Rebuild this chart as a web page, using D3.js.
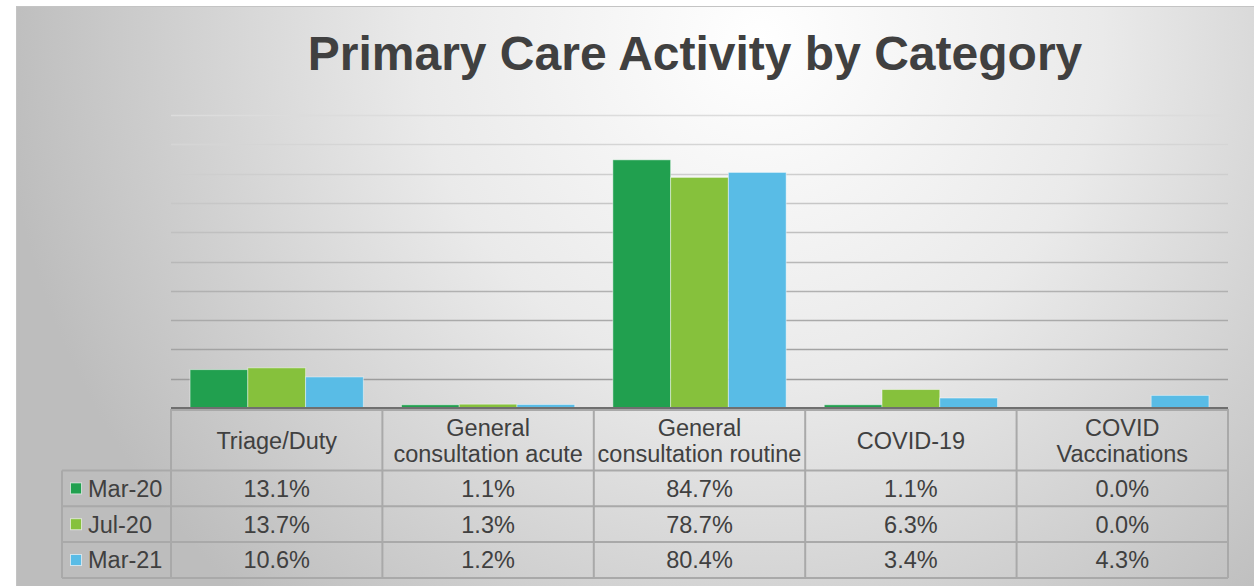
<!DOCTYPE html>
<html><head><meta charset="utf-8">
<script src="https://cdn.jsdelivr.net/npm/d3@7"></script>
<style>html,body{margin:0;padding:0;background:#fff;}svg{display:block;}</style>
</head><body>
<svg id="c" width="1254" height="586"></svg>
<script>
const categories = ["Triage/Duty", "General consultation acute", "General consultation routine", "COVID-19", "COVID Vaccinations"];
const categoryLines = [["Triage/Duty"], ["General", "consultation acute"], ["General", "consultation routine"], ["COVID-19"], ["COVID", "Vaccinations"]];
const seriesNames = ["Mar-20", "Jul-20", "Mar-21"];
const mar20 = [13.1, 1.1, 84.7, 1.1, 0.0];
const jul20 = [13.7, 1.3, 78.7, 6.3, 0.0];
const mar21 = [10.6, 1.2, 80.4, 3.4, 4.3];
const seriesColors = ["#21a04f", "#86c13c", "#59bce6"];
const yTicks = [0, 10, 20, 30, 40, 50, 60, 70, 80, 90, 100];
const title = "Primary Care Activity by Category";

(function () {
const series = [mar20, jul20, mar21];
const svg = d3.select("#c");
const font = "'Liberation Sans', Arimo, Arial, sans-serif";
const defs = svg.append("defs");
const rg = defs.append("radialGradient").attr("id", "bg")
  .attr("gradientUnits", "userSpaceOnUse")
  .attr("cx", 760).attr("cy", 40).attr("r", 760).attr("fx", 760).attr("fy", 40);
rg.append("stop").attr("offset", "0%").attr("stop-color", "#ffffff");
rg.append("stop").attr("offset", "45%").attr("stop-color", "#eaeaea");
rg.append("stop").attr("offset", "100%").attr("stop-color", "#bdbdbd");

svg.append("rect").attr("x", 16).attr("y", 6).attr("width", 1238).attr("height", 580).attr("fill", "url(#bg)");
svg.append("line").attr("x1", 16).attr("x2", 1254).attr("y1", 6.5).attr("y2", 6.5).attr("stroke", "#c4c4c4");
svg.append("line").attr("x1", 16.5).attr("x2", 16.5).attr("y1", 6).attr("y2", 586).attr("stroke", "#c4c4c4");

svg.append("text").attr("x", 695).attr("y", 70).attr("text-anchor", "middle")
  .style("font-family", font).attr("font-weight", "bold")
  .attr("font-size", 48).attr("fill", "#404040").text(title);

const pLeft = 171, pRight = 1228, pTop = 115, base = 408;
const x = d3.scaleBand().domain(categories).range([pLeft, pRight]).paddingInner(0).paddingOuter(0);
const y = d3.scaleLinear().domain([0, 100]).range([base, pTop]);
const xs = d3.scaleBand().domain(seriesNames).range([0, x.bandwidth()]).paddingOuter(0.33).paddingInner(0);

const gridCol = d3.scaleLinear().domain([100, 10]).range(["#dcdcdc", "#9c9c9c"]);
svg.append("g").selectAll("line").data(yTicks.filter(t => t > 0)).join("line")
  .attr("x1", pLeft).attr("x2", pRight)
  .attr("y1", d => Math.round(y(d)) + 0.5).attr("y2", d => Math.round(y(d)) + 0.5)
  .attr("stroke", d => gridCol(d)).attr("stroke-width", 1.5);

const bars = svg.append("g");
series.forEach((vals, si) => {
  bars.selectAll(null).data(vals).join("rect")
    .attr("x", (d, i) => x(categories[i]) + xs(seriesNames[si]))
    .attr("width", xs.bandwidth())
    .attr("y", d => y(d))
    .attr("height", d => base - y(d))
    .attr("fill", seriesColors[si])
    .attr("stroke", "rgba(255,255,255,0.45)").attr("stroke-width", 1);
});
svg.append("line").attr("x1", pLeft).attr("x2", pRight).attr("y1", base).attr("y2", base)
  .attr("stroke", "#6f6f6f").attr("stroke-width", 2);

const tbl = svg.append("g");
const headerBottom = 470.5, rowH = 35.8, legendLeft = 62;
const rowTops = seriesNames.map((s, i) => headerBottom + i * rowH);
const tableBottom = headerBottom + 3 * rowH;
const lineCol = "#a9a9a9", txtCol = "#404040", fs = 23.5;

tbl.append("line").attr("x1", pLeft).attr("x2", pRight).attr("y1", 410).attr("y2", 410).attr("stroke", lineCol).attr("stroke-width", 2);
[headerBottom, headerBottom + rowH, headerBottom + 2 * rowH, tableBottom].forEach(yy => {
  tbl.append("line").attr("x1", legendLeft).attr("x2", pRight).attr("y1", yy).attr("y2", yy).attr("stroke", lineCol).attr("stroke-width", 2);
});
categories.forEach(c => {
  tbl.append("line").attr("x1", x(c)).attr("x2", x(c)).attr("y1", 409).attr("y2", tableBottom).attr("stroke", lineCol).attr("stroke-width", 2);
});
tbl.append("line").attr("x1", pRight).attr("x2", pRight).attr("y1", 409).attr("y2", tableBottom).attr("stroke", lineCol).attr("stroke-width", 2);
tbl.append("line").attr("x1", legendLeft).attr("x2", legendLeft).attr("y1", headerBottom).attr("y2", tableBottom).attr("stroke", lineCol).attr("stroke-width", 2);

categories.forEach((c, i) => {
  const lines = categoryLines[i];
  const cx = x(c) + x.bandwidth() / 2;
  const mid = (410 + headerBottom) / 2;
  const lh = 26;
  lines.forEach((ln, k) => {
    tbl.append("text").attr("x", cx).attr("y", mid + (k - (lines.length - 1) / 2) * lh + 8.4)
      .attr("text-anchor", "middle").style("font-family", font).attr("font-size", fs).attr("fill", txtCol).text(ln);
  });
});

series.forEach((vals, si) => {
  const cy = rowTops[si] + rowH / 2;
  tbl.append("rect").attr("x", 70.5).attr("y", cy - 5.5).attr("width", 11).attr("height", 11)
    .attr("fill", seriesColors[si]).attr("stroke", "rgba(255,255,255,0.6)").attr("stroke-width", 1);
  tbl.append("text").attr("x", 88).attr("y", cy + 8.4).style("font-family", font).attr("font-size", fs)
    .attr("fill", txtCol).text(seriesNames[si]);
  vals.forEach((v, i) => {
    tbl.append("text").attr("x", x(categories[i]) + x.bandwidth() / 2).attr("y", cy + 8.4)
      .attr("text-anchor", "middle").style("font-family", font).attr("font-size", fs)
      .attr("fill", txtCol).text(v.toFixed(1) + "%");
  });
});
})();
</script>
</body></html>
